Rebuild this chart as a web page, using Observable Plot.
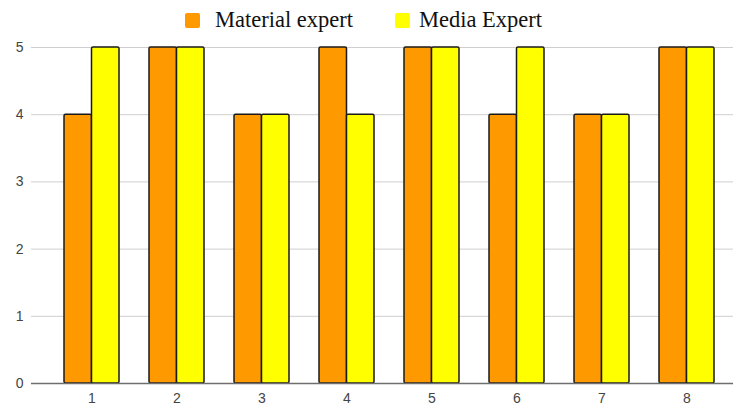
<!DOCTYPE html>
<html><head><meta charset="utf-8">
<script src="https://cdn.jsdelivr.net/npm/d3@7"></script>
<script src="https://cdn.jsdelivr.net/npm/@observablehq/plot@0.6"></script>
<style>
body{margin:0;background:#fff;width:735px;height:408px;overflow:hidden}
#legend{height:37px;position:relative;font-family:"Liberation Serif","Times New Roman",serif;font-size:22.5px;line-height:22px;color:#111}
.sw{position:absolute;top:13px;width:15px;height:15px;border-radius:2px}
.lb{position:absolute;top:9px;white-space:nowrap}
#chart svg{display:block}
#chart svg text{font-size:14px}
</style></head>
<body>
<div id="legend">
  <div class="sw" style="left:185px;background:#FF9900"></div><div class="lb" style="left:215px">Material expert</div>
  <div class="sw" style="left:395px;background:#FFFF00"></div><div class="lb" style="left:419px">Media Expert</div>
</div>
<div id="chart"></div>
<script>
const groups = ["1","2","3","4","5","6","7","8"];
const materialExpert = [4,5,4,5,5,4,4,5];
const mediaExpert = [5,5,4,4,5,5,4,5];
const yTicks = [0,1,2,3,4,5];

const matData = groups.map((g,i)=>({group:g, value:materialExpert[i]}));
const medData = groups.map((g,i)=>({group:g, value:mediaExpert[i]}));

const half = 27.5;
const chart = Plot.plot({
  width: 735,
  height: 371,
  marginTop: 10,
  marginBottom: 25,
  marginLeft: 31,
  marginRight: 2,
  style: {fontFamily: "'Liberation Sans', Arial, sans-serif", fontSize: "14px", color: "#444", background: "#fff"},
  x: {domain: groups, range: [45, 732], paddingInner: 0.357, paddingOuter: 0.183, label: null},
  y: {domain: [0,5], label: null},
  marks: [
    Plot.gridY(yTicks, {stroke: "#cfcfcf", strokeOpacity: 1}),
    Plot.barY(matData, {x: "group", y: "value", fill: "#FF9900", stroke: "#1a1a1a", strokeWidth: 1.5, insetRight: half, rx: 1.5}),
    Plot.barY(medData, {x: "group", y: "value", fill: "#FFFF00", stroke: "#1a1a1a", strokeWidth: 1.5, insetLeft: half, rx: 1.5}),
    Plot.ruleY([0], {stroke: "#6e6e6e", strokeWidth: 1.5}),
    Plot.axisY(yTicks, {tickSize: 0, tickPadding: 8, tickFormat: d3.format("d")}),
    Plot.axisX({tickSize: 0, tickPadding: 10})
  ]
});
document.getElementById("chart").appendChild(chart);
</script>
</body></html>
